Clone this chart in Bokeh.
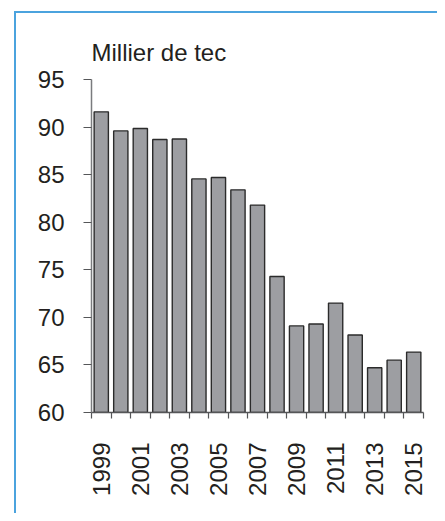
import math
from bokeh.plotting import figure
from bokeh.models import FixedTicker, Label, Range1d
from bokeh.embed import file_html
from bokeh.resources import INLINE

years = list(range(1999, 2016))
values = [91.6, 89.6, 89.85, 88.7, 88.75, 84.55, 84.7, 83.4, 81.8, 74.3,
          69.1, 69.3, 71.5, 68.15, 64.7, 65.5, 66.35]
y_ticks = [60, 65, 70, 75, 80, 85, 90, 95]
x_label_years = [1999, 2001, 2003, 2005, 2007, 2009, 2011, 2013, 2015]
title_text = "Millier de tec"

FONT = "Liberation Sans"
TXT = "#231f20"
BLUE = "#4ba3de"
W, H = 437, 513
L, R, T, B = 91, 423, 79, 412   # axis box edges (y=95 at T, y=60 at B)
T_FRAME = 30                    # frame extends above 95 to hold the title

px_x = (2015.5 - 1998.5) / (R - L)
px_y = (95 - 60) / (B - T)
y_top = 95 + (T - T_FRAME) * px_y

p = figure(width=W, height=H, output_backend="svg", toolbar_location=None,
           x_range=Range1d(1998.5, 2015.5), y_range=Range1d(60, y_top),
           min_border_left=L, min_border_right=W - R, min_border_top=T_FRAME,
           min_border_bottom=H - B, outline_line_color=None,
           border_fill_alpha=0)
p.grid.grid_line_color = None
# blue frame line (left and top) drawn as CSS inset shadows behind the transparent border
p.styles = {"box-shadow": f"inset 14px 11px 0 0 #ffffff, inset 16px 13px 0 0 {BLUE}",
            "background-color": "#ffffff"}

p.vbar(x=years, top=values, bottom=60, width=0.73, fill_color="#9d9ea2",
       line_color="#2b2b2b", line_width=1.4)

# y axis
ya = p.yaxis[0]
ya.ticker = FixedTicker(ticks=y_ticks)
ya.bounds = (60, 95)
ya.axis_line_color = "#7a7b7e"
ya.axis_line_width = 1.5
ya.major_tick_line_color = "#555658"
ya.major_tick_line_width = 1.2
ya.major_tick_out = 8
ya.major_tick_in = 0
ya.minor_tick_line_color = None
ya.major_label_standoff = 19
ya.major_label_text_font = FONT
ya.major_label_text_font_size = "24px"
ya.major_label_text_color = TXT

# x axis
xa = p.xaxis[0]
xa.ticker = FixedTicker(ticks=x_label_years, minor_ticks=[y - 0.5 for y in years] + [2015.5])
xa.axis_line_color = "#555658"
xa.axis_line_width = 1.5
xa.major_tick_line_color = None
xa.major_tick_out = 0
xa.major_tick_in = 0
xa.minor_tick_line_color = "#555658"
xa.minor_tick_line_width = 1.2
xa.minor_tick_out = 6
xa.minor_tick_in = 0
xa.major_label_orientation = math.pi / 2
xa.major_label_standoff = 24
xa.major_label_text_font = FONT
xa.major_label_text_font_size = "24px"
xa.major_label_text_color = TXT

p.add_layout(Label(x=1998.5, y=95 + (T - 52) * px_y, text=title_text,
                   text_font=FONT, text_font_size="24px", text_color=TXT,
                   text_baseline="alphabetic", text_align="left"))

open("out.html", "w").write(file_html(p, INLINE))
